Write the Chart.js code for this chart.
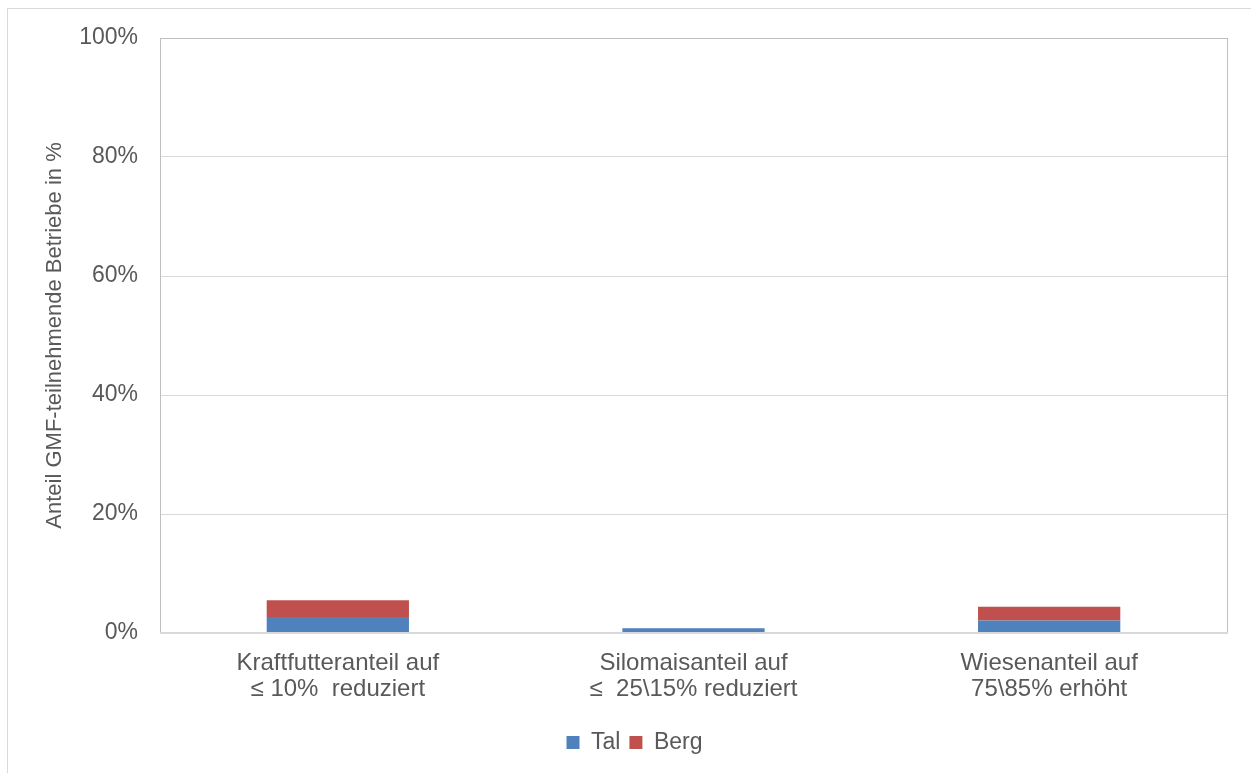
<!DOCTYPE html>
<html>
<head>
<meta charset="utf-8">
<script src="https://cdn.jsdelivr.net/npm/chart.js@4"></script>
<style>
  html, body { margin: 0; padding: 0; background: #fff; overflow: hidden; }
  #frame { position: absolute; left: 7px; top: 8px; width: 1300px; height: 800px; border: 1px solid #d9d9d9; }
  #wrap { position: absolute; left: 0; top: 0; width: 1251px; height: 773px; }
</style>
</head>
<body>
<div id="frame"></div>
<div id="wrap"><canvas id="chart"></canvas></div>
<script>
// Werte in Prozent
const categories = [
    ['Kraftfutteranteil auf', '\u2264 10%  reduziert'],
    ['Silomaisanteil auf', '\u2264  25\\15% reduziert'],
    ['Wiesenanteil auf', '75\\85% erh\u00f6ht']
];
const talValues = [2.7, 0.8, 2.1];
const bergValues = [2.8, 0, 2.3];
const yTicks = [0, 20, 40, 60, 80, 100];

const textColor = '#595959';
const font = 'Liberation Sans, Arial, sans-serif';

// Rahmen um die Plotfläche
const plotBorder = {
    id: 'plotBorder',
    afterDraw(chart) {
        const { ctx, chartArea } = chart;
        ctx.save();
        ctx.strokeStyle = '#bfbfbf';
        ctx.lineWidth = 1;
        ctx.strokeRect(chartArea.left + 0.5, chartArea.top + 0.5,
            chartArea.right - chartArea.left, chartArea.bottom - chartArea.top);
        ctx.strokeStyle = '#d9d9d9';
        ctx.lineWidth = 2;
        ctx.beginPath();
        ctx.moveTo(chartArea.left, chartArea.bottom);
        ctx.lineTo(chartArea.right + 1, chartArea.bottom);
        ctx.stroke();
        ctx.restore();
    }
};

const ctx = document.getElementById('chart');

new Chart(ctx, {
    type: 'bar',
    data: {
        labels: categories,
        datasets: [{
            label: 'Tal',
            data: talValues,
            backgroundColor: '#4f81bd'
        }, {
            label: 'Berg',
            data: bergValues,
            backgroundColor: '#c0504d'
        }]
    },
    options: {
        responsive: true,
        maintainAspectRatio: false,
        animation: false,
        layout: { padding: { left: 42, right: 24, top: 38, bottom: 9 } },
        datasets: {
            bar: { categoryPercentage: 1, barPercentage: 0.4 }
        },
        scales: {
            x: {
                stacked: true,
                grid: { display: false, drawTicks: false },
                border: { display: false },
                ticks: {
                    color: textColor,
                    font: { family: font, size: 24, lineHeight: 1.1 },
                    padding: 17,
                    maxRotation: 0
                },
                afterFit(scale) { scale.height = 89; }
            },
            y: {
                stacked: true,
                min: 0,
                max: 100,
                afterBuildTicks(scale) {
                    scale.ticks = yTicks.map(v => ({ value: v }));
                },
                grid: { color: '#d9d9d9', drawTicks: false },
                border: { display: false },
                ticks: {
                    color: textColor,
                    font: { family: font, size: 23 },
                    padding: 22,
                    callback: v => v + '%'
                },
                title: {
                    display: true,
                    text: 'Anteil GMF-teilnehmende Betriebe in %',
                    color: textColor,
                    font: { family: font, size: 22 },
                    padding: { top: 0, bottom: 0 }
                },
                afterFit(scale) { scale.width = 118; }
            }
        },
        plugins: {
            legend: {
                position: 'bottom',
                labels: {
                    color: textColor,
                    font: { family: font, size: 23 },
                    boxWidth: 13,
                    boxHeight: 13,
                    padding: 9
                }
            },
            tooltip: { enabled: false }
        }
    },
    plugins: [plotBorder]
});
</script>
</body>
</html>
